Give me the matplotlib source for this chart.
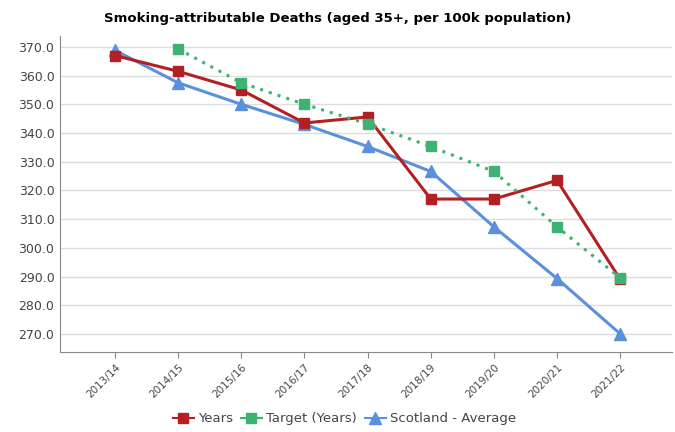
import numpy as np
import matplotlib.pyplot as plt
from matplotlib.lines import Line2D

periods = ["2013/14", "2014/15", "2015/16", "2016/17", "2017/18",
           "2018/19", "2019/20", "2020/21", "2021/22"]
years = [367.0, 361.5, 355.0, 343.5, 345.6, 317.0, 317.0, 323.5, 289.0]
target = [np.nan, 369.3, 357.5, 350.0, 343.2, 335.3, 326.6, 307.3, 289.5]
scotland = [368.8, 357.5, 350.0, 343.0, 335.3, 326.6, 307.3, 289.3, 270.0]

red, green, blue = "#b22024", "#3cb371", "#5a90dc"

fig = plt.figure(figsize=(6.75, 4.32), dpi=100)
ax = fig.add_axes([60 / 675, 80 / 432, 612 / 675, 316 / 432])

x = np.arange(len(periods))
ax.plot(x, years, color=red, lw=2.2, marker="s", ms=7.5, zorder=3)
ax.plot(x, target, color=green, lw=2.2, ls=(0, (1, 2)), marker="s", ms=7.5, zorder=4)
ax.plot(x, scotland, color=blue, lw=2.2, marker="^", ms=8.5, zorder=2)

ax.set_xlim(-0.87, 8.82)
ax.set_ylim(263.7, 373.8)
ax.set_yticks(np.arange(270, 371, 10))
ax.set_yticklabels([f"{v:.1f}" for v in np.arange(270, 371, 10)])
ax.set_xticks(x)
ax.set_xticklabels(periods, rotation=45, ha="right", rotation_mode="anchor",
                   fontsize=7.5, color="#444444")
ax.tick_params(axis="y", labelsize=9, colors="#444444", length=0, pad=4)
ax.tick_params(axis="x", length=4, color="#888888")
ax.grid(axis="y", color="#dddddd", lw=1)
ax.set_axisbelow(True)
for s in ["top", "right"]:
    ax.spines[s].set_visible(False)
for s in ["left", "bottom"]:
    ax.spines[s].set_color("#888888")

fig.suptitle("Smoking-attributable Deaths (aged 35+, per 100k population)",
             x=0.5, y=0.972, fontsize=9.5, fontweight="bold")

handles = [
    Line2D([], [], color=red, lw=1.5, marker="s", ms=7),
    Line2D([], [], color=green, lw=1.5, marker="s", ms=7),
    Line2D([], [], color=blue, lw=1.5, marker="^", ms=8),
]
fig.legend(handles, ["Years", "Target (Years)", "Scotland - Average"],
           loc="lower center", bbox_to_anchor=(0.51, -0.012), ncol=3, frameon=False,
           fontsize=9.5, handlelength=1.6, columnspacing=0.6, handletextpad=0.3,
           labelcolor="#444444")

fig.savefig("out.png", dpi=100)
